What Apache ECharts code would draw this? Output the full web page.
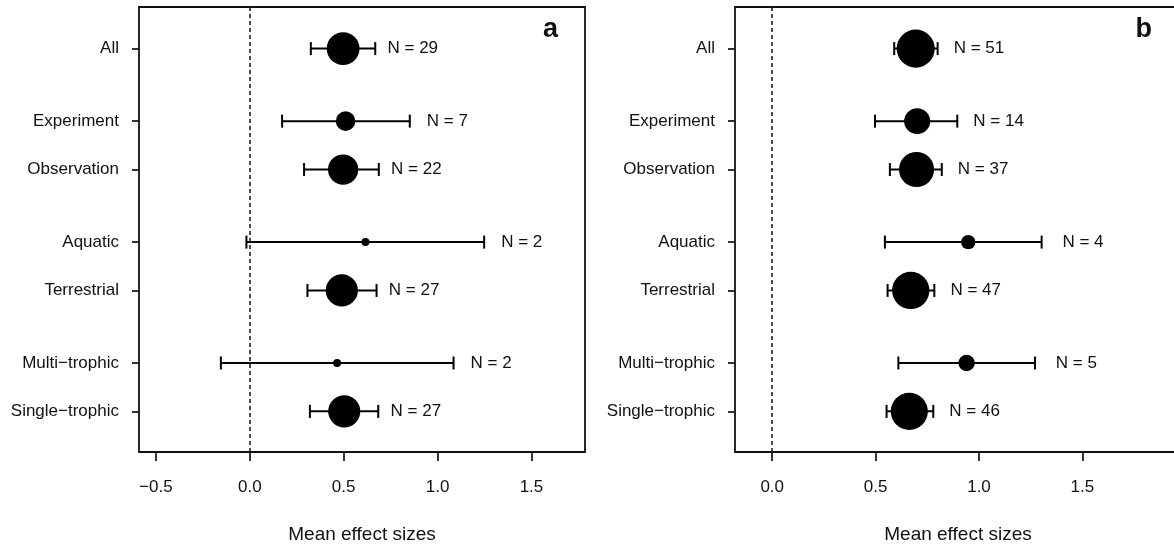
<!DOCTYPE html>
<html>
<head>
<meta charset="utf-8">
<script src="https://cdn.jsdelivr.net/npm/echarts@6/dist/echarts.min.js"></script>
<style>
  html, body { margin: 0; padding: 0; background: #fff; }
  #chart { width: 1174px; height: 548px; }
</style>
</head>
<body>
<div id="chart"></div>
<script>
// Row labels, top to bottom, and the group each row belongs to
const rows = ['All', 'Experiment', 'Observation', 'Aquatic', 'Terrestrial', 'Multi\u2212trophic', 'Single\u2212trophic'];
const rowGroup = [0, 1, 1, 2, 2, 3, 3];

// Panel a: mean effect size with lower / upper confidence limits and sample size
const aMean  = [0.497, 0.510, 0.497, 0.616, 0.490, 0.465, 0.503];
const aLower = [0.325, 0.172, 0.289, -0.018, 0.307, -0.154, 0.320];
const aUpper = [0.668, 0.852, 0.687, 1.248, 0.675, 1.085, 0.684];
const aN     = [29, 7, 22, 2, 27, 2, 27];

// Panel b
const bMean  = [0.694, 0.701, 0.698, 0.948, 0.670, 0.940, 0.663];
const bLower = [0.590, 0.497, 0.569, 0.545, 0.558, 0.610, 0.553];
const bUpper = [0.800, 0.895, 0.820, 1.303, 0.784, 1.271, 0.779];
const bN     = [51, 14, 37, 4, 47, 5, 46];

// Tick values on the effect-size axes
const aTicks = [-0.5, 0, 0.5, 1, 1.5];
const bTicks = [0, 0.5, 1, 1.5];

// Rows sit one unit apart, with an extra half unit between groups
const rowPos = rows.map((_, i) => i + 0.5 * rowGroup[i]);

const FONT = '"Liberation Sans", Arial, Helvetica, sans-serif';
const INK = '#111';

function fmtTick(v) {
  return (v < 0 ? '\u2212' : '') + Math.abs(v).toFixed(1);
}
function rowName(v) {
  let best = 0;
  rowPos.forEach((p, i) => { if (Math.abs(p - v) < Math.abs(rowPos[best] - v)) best = i; });
  return rows[best];
}

function yAxisFor(g) {
  return {
    gridIndex: g, type: 'value', inverse: true, min: -0.86, max: 8.34,
    splitLine: { show: false },
    axisLine: { show: false, onZero: false },
    axisTick: { show: true, customValues: rowPos, length: 7, lineStyle: { color: '#111', width: 1.7 } },
    axisLabel: { customValues: rowPos, formatter: rowName, margin: 20, fontSize: 17, color: INK, fontFamily: FONT }
  };
}
function xAxisFor(g, min, max, ticks) {
  return {
    gridIndex: g, type: 'value', min: min, max: max,
    splitLine: { show: false },
    axisLine: { show: false, onZero: false },
    axisTick: { show: true, customValues: ticks, length: 9, lineStyle: { color: '#111', width: 1.7 } },
    axisLabel: { customValues: ticks, formatter: fmtTick, margin: 27, fontSize: 17, color: INK, fontFamily: FONT },
    name: 'Mean effect sizes', nameLocation: 'middle', nameGap: 73,
    nameTextStyle: { fontSize: 19, color: INK, fontFamily: FONT }
  };
}

function panelSeries(g, mean, lower, upper, n) {
  const bars = rows.map((_, i) => [lower[i], upper[i], rowPos[i], n[i]]);
  const pts = rows.map((_, i) => [mean[i], rowPos[i], n[i]]);
  return [
    {
      type: 'custom', xAxisIndex: g, yAxisIndex: g, clip: false,
      data: bars,
      encode: { x: [0, 1], y: 2 },
      renderItem: function (params, api) {
        const y = api.value(2);
        const lo = api.coord([api.value(0), y]);
        const hi = api.coord([api.value(1), y]);
        const lab = api.coord([api.value(1) + 0.2, y]);
        const cap = 6.5;
        const st = { stroke: '#000', lineWidth: 2 };
        return {
          type: 'group',
          children: [
            { type: 'line', shape: { x1: lo[0], y1: lo[1], x2: hi[0], y2: hi[1] }, style: st },
            { type: 'line', shape: { x1: lo[0], y1: lo[1] - cap, x2: lo[0], y2: lo[1] + cap }, style: st },
            { type: 'line', shape: { x1: hi[0], y1: hi[1] - cap, x2: hi[0], y2: hi[1] + cap }, style: st },
            { type: 'text', x: lab[0], y: lab[1],
              style: { text: 'N = ' + api.value(3), fill: INK, font: '17px ' + FONT, align: 'center', verticalAlign: 'middle' } }
          ]
        };
      },
      markLine: {
        silent: true, symbol: ['none', 'none'], animation: false,
        label: { show: false },
        lineStyle: { color: '#222', width: 1.6, type: [4, 3] },
        data: [{ xAxis: 0 }]
      },
      animation: false
    },
    {
      type: 'scatter', xAxisIndex: g, yAxisIndex: g,
      data: pts,
      symbol: 'circle',
      symbolSize: v => 1.5 + 9.3 * Math.log(v[2]),
      itemStyle: { color: '#000', opacity: 1 },
      animation: false, z: 5
    }
  ];
}

const chart = echarts.init(document.getElementById('chart'), null, { renderer: 'canvas' });
chart.setOption({
  backgroundColor: '#fff',
  textStyle: { fontFamily: FONT },
  grid: [
    { left: 139, top: 7, width: 446, height: 445, show: true, borderColor: '#111', borderWidth: 1.8, outerBoundsMode: 'none', containLabel: false },
    { left: 735, top: 7, width: 446, height: 445, show: true, borderColor: '#111', borderWidth: 1.8, outerBoundsMode: 'none', containLabel: false }
  ],
  xAxis: [xAxisFor(0, -0.59, 1.785, aTicks), xAxisFor(1, -0.18, 1.977, bTicks)],
  yAxis: [yAxisFor(0), yAxisFor(1)],
  graphic: [
    { type: 'text', x: 558, y: 30, style: { text: 'a', font: 'bold 27px ' + FONT, fill: INK, align: 'right', verticalAlign: 'middle' } },
    { type: 'text', x: 1152, y: 30, style: { text: 'b', font: 'bold 27px ' + FONT, fill: INK, align: 'right', verticalAlign: 'middle' } }
  ],
  series: panelSeries(0, aMean, aLower, aUpper, aN).concat(panelSeries(1, bMean, bLower, bUpper, bN))
});
</script>
</body>
</html>
